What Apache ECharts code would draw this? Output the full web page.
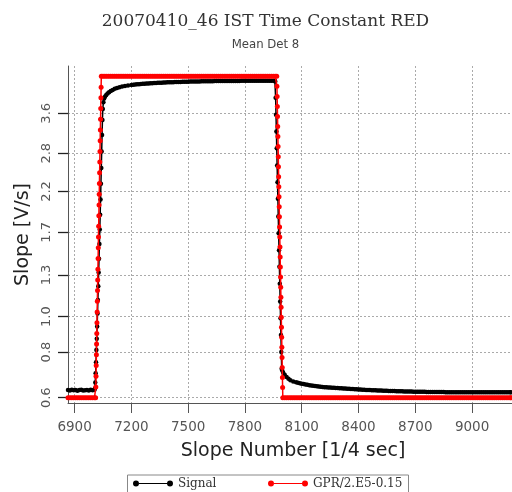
<!DOCTYPE html>
<html>
<head>
<meta charset="utf-8">
<script src="https://cdn.jsdelivr.net/npm/echarts@6/dist/echarts.min.js"></script>
<style>
  html, body { margin: 0; padding: 0; background: #fff; }
  #chart { width: 512px; height: 492px; }
</style>
</head>
<body>
<div id="chart"></div>
<script>
// Tick positions on both axes
const yTicks = [0.6, 0.8, 1.0, 1.3, 1.7, 2.2, 2.8, 3.6];
const xTicks = [6900, 7200, 7500, 7800, 8100, 8400, 8700, 9000];

// Signal: mean slope of detector 8 [V/s] per slope number
const signalX = [
  6865, 6875, 6885, 6895, 6905, 6915, 6925, 6935, 6945, 6955,
  6965, 6975, 6985, 6995, 7005, 7007, 7009, 7011, 7013, 7015,
  7017, 7019, 7021, 7023, 7025, 7027, 7029, 7031, 7033, 7035,
  7037, 7039, 7041, 7043, 7045, 7047, 7049, 7052, 7056, 7061,
  7067, 7074, 7082, 7091, 7101, 7112, 7124, 7137, 7151, 7166,
  7182, 7200, 7210, 7220, 7230, 7240, 7250, 7260, 7270, 7280,
  7290, 7300, 7310, 7320, 7330, 7340, 7350, 7360, 7370, 7380,
  7390, 7400, 7410, 7420, 7430, 7440, 7450, 7460, 7470, 7480,
  7490, 7500, 7510, 7520, 7530, 7540, 7550, 7560, 7570, 7580,
  7590, 7600, 7610, 7620, 7630, 7640, 7650, 7660, 7670, 7680,
  7690, 7700, 7710, 7720, 7730, 7740, 7750, 7760, 7770, 7780,
  7790, 7800, 7810, 7820, 7830, 7840, 7850, 7860, 7870, 7880,
  7890, 7900, 7910, 7920, 7930, 7940, 7950, 7958, 7960, 7962,
  7964, 7966, 7968, 7970, 7972, 7974, 7976, 7978, 7980, 7982,
  7984, 7986, 7988, 7990, 7992, 7994, 7997, 8002, 8010, 8020,
  8030, 8040, 8055, 8070, 8080, 8090, 8100, 8110, 8120, 8130,
  8140, 8150, 8160, 8170, 8180, 8190, 8200, 8210, 8220, 8230,
  8240, 8250, 8260, 8270, 8280, 8290, 8300, 8310, 8320, 8330,
  8340, 8350, 8360, 8370, 8380, 8390, 8400, 8410, 8420, 8430,
  8440, 8450, 8460, 8470, 8480, 8490, 8500, 8510, 8520, 8530,
  8540, 8550, 8560, 8570, 8580, 8590, 8600, 8610, 8620, 8630,
  8640, 8650, 8660, 8670, 8680, 8690, 8700, 8710, 8720, 8730,
  8740, 8750, 8760, 8770, 8780, 8790, 8800, 8810, 8820, 8830,
  8840, 8850, 8860, 8870, 8880, 8890, 8900, 8910, 8920, 8930,
  8940, 8950, 8960, 8970, 8980, 8990, 9000, 9010, 9020, 9030,
  9040, 9050, 9060, 9070, 9080, 9090, 9100, 9110, 9120, 9130,
  9140, 9150, 9160, 9170, 9180, 9190, 9200, 9205
];
const signalY = [
  0.630, 0.628, 0.631, 0.629, 0.630, 0.627, 0.630, 0.631, 0.628, 0.629,
  0.630, 0.628, 0.631, 0.629, 0.631, 0.636, 0.66, 0.70, 0.75, 0.81,
  0.87, 0.94, 1.02, 1.11, 1.21, 1.32, 1.44, 1.58, 1.73, 1.90,
  2.09, 2.31, 2.55, 2.83, 3.14, 3.45, 3.70, 3.86, 3.95, 4.00,
  4.04, 4.08, 4.11, 4.14, 4.17, 4.20, 4.22, 4.245, 4.26, 4.275,
  4.29, 4.305, 4.310, 4.315, 4.320, 4.325, 4.330, 4.335, 4.339, 4.342,
  4.346, 4.350, 4.353, 4.356, 4.359, 4.362, 4.365, 4.367, 4.370, 4.372,
  4.375, 4.377, 4.379, 4.381, 4.383, 4.385, 4.387, 4.388, 4.390, 4.391,
  4.393, 4.394, 4.396, 4.397, 4.399, 4.400, 4.401, 4.402, 4.403, 4.404,
  4.405, 4.406, 4.407, 4.408, 4.409, 4.410, 4.410, 4.411, 4.411, 4.412,
  4.412, 4.413, 4.413, 4.414, 4.414, 4.415, 4.415, 4.416, 4.416, 4.417,
  4.417, 4.418, 4.418, 4.418, 4.419, 4.419, 4.419, 4.420, 4.420, 4.420,
  4.421, 4.421, 4.421, 4.421, 4.422, 4.422, 4.422, 4.422, 4.40, 3.97,
  3.57, 3.21, 2.89, 2.59, 2.33, 2.10, 1.88, 1.69, 1.52, 1.37,
  1.23, 1.10, 0.99, 0.89, 0.80, 0.72, 0.712, 0.702, 0.693, 0.684,
  0.676, 0.670, 0.665, 0.661, 0.659, 0.657, 0.655, 0.654, 0.652, 0.651,
  0.649, 0.648, 0.647, 0.646, 0.645, 0.644, 0.643, 0.642, 0.641, 0.641,
  0.640, 0.640, 0.639, 0.639, 0.638, 0.638, 0.637, 0.637, 0.636, 0.636,
  0.635, 0.635, 0.634, 0.634, 0.633, 0.633, 0.632, 0.632, 0.631, 0.631,
  0.630, 0.630, 0.630, 0.629, 0.629, 0.629, 0.628, 0.628, 0.628, 0.627,
  0.627, 0.627, 0.626, 0.626, 0.626, 0.626, 0.625, 0.625, 0.625, 0.625,
  0.624, 0.624, 0.624, 0.624, 0.624, 0.623, 0.623, 0.623, 0.623, 0.623,
  0.623, 0.623, 0.622, 0.622, 0.622, 0.622, 0.622, 0.622, 0.622, 0.622,
  0.622, 0.622, 0.621, 0.621, 0.621, 0.621, 0.621, 0.621, 0.621, 0.621,
  0.621, 0.621, 0.621, 0.621, 0.621, 0.621, 0.621, 0.621, 0.621, 0.621,
  0.621, 0.621, 0.621, 0.621, 0.621, 0.621, 0.621, 0.621, 0.621, 0.621,
  0.621, 0.621, 0.621, 0.621, 0.621, 0.621, 0.621, 0.621
];

// GPR reference, scaled as GPR/2.E5-0.15
const gprX = [
  6865, 6875, 6885, 6895, 6905, 6915, 6925, 6935, 6945, 6955,
  6965, 6975, 6985, 6995, 7005,
  7011, 7012, 7013, 7014, 7015, 7016, 7017, 7018, 7019, 7020,
  7021, 7022, 7023, 7024, 7025, 7026, 7027, 7028, 7029, 7030,
  7031, 7032, 7033, 7034, 7035, 7036, 7037, 7038, 7039, 7040, 7041,
  7050, 7060, 7070, 7080, 7090, 7100, 7110, 7120, 7130, 7140,
  7150, 7160, 7170, 7180, 7190, 7200, 7210, 7220, 7230, 7240,
  7250, 7260, 7270, 7280, 7290, 7300, 7310, 7320, 7330, 7340,
  7350, 7360, 7370, 7380, 7390, 7400, 7410, 7420, 7430, 7440,
  7450, 7460, 7470, 7480, 7490, 7500, 7510, 7520, 7530, 7540,
  7550, 7560, 7570, 7580, 7590, 7600, 7610, 7620, 7630, 7640,
  7650, 7660, 7670, 7680, 7690, 7700, 7710, 7720, 7730, 7740,
  7750, 7760, 7770, 7780, 7790, 7800, 7810, 7820, 7830, 7840,
  7850, 7860, 7870, 7880, 7890, 7900, 7910, 7920, 7930, 7940,
  7950, 7960, 7968,
  7969, 7970, 7971, 7972, 7973, 7974, 7975, 7976, 7977, 7978,
  7979, 7980, 7981, 7982, 7983, 7984, 7985, 7986, 7987, 7988,
  7989, 7990, 7991, 7992, 7993, 7994, 7995, 7996, 7997, 7998,
  7999, 8000,
  8010, 8020, 8030, 8040, 8050, 8060, 8070, 8080, 8090, 8100,
  8110, 8120, 8130, 8140, 8150, 8160, 8170, 8180, 8190, 8200,
  8210, 8220, 8230, 8240, 8250, 8260, 8270, 8280, 8290, 8300,
  8310, 8320, 8330, 8340, 8350, 8360, 8370, 8380, 8390, 8400,
  8410, 8420, 8430, 8440, 8450, 8460, 8470, 8480, 8490, 8500,
  8510, 8520, 8530, 8540, 8550, 8560, 8570, 8580, 8590, 8600,
  8610, 8620, 8630, 8640, 8650, 8660, 8670, 8680, 8690, 8700,
  8710, 8720, 8730, 8740, 8750, 8760, 8770, 8780, 8790, 8800,
  8810, 8820, 8830, 8840, 8850, 8860, 8870, 8880, 8890, 8900,
  8910, 8920, 8930, 8940, 8950, 8960, 8970, 8980, 8990, 9000,
  9010, 9020, 9030, 9040, 9050, 9060, 9070, 9080, 9090, 9100,
  9110, 9120, 9130, 9140, 9150, 9160, 9170, 9180, 9190, 9200,
  9205
];
const gprY = [
  0.6, 0.6, 0.6, 0.6, 0.6, 0.6, 0.6, 0.6, 0.6, 0.6,
  0.6, 0.6, 0.6, 0.6, 0.6,
  0.600, 0.642, 0.687, 0.735, 0.786, 0.841, 0.899, 0.962, 1.029, 1.101,
  1.178, 1.260, 1.348, 1.442, 1.543, 1.651, 1.766, 1.889, 2.021, 2.162,
  2.313, 2.474, 2.647, 2.832, 3.030, 3.241, 3.467, 3.709, 3.968, 4.245, 4.545,
  4.545, 4.545, 4.545, 4.545, 4.545, 4.545, 4.545, 4.545, 4.545, 4.545,
  4.545, 4.545, 4.545, 4.545, 4.545, 4.545, 4.545, 4.545, 4.545, 4.545,
  4.545, 4.545, 4.545, 4.545, 4.545, 4.545, 4.545, 4.545, 4.545, 4.545,
  4.545, 4.545, 4.545, 4.545, 4.545, 4.545, 4.545, 4.545, 4.545, 4.545,
  4.545, 4.545, 4.545, 4.545, 4.545, 4.545, 4.545, 4.545, 4.545, 4.545,
  4.545, 4.545, 4.545, 4.545, 4.545, 4.545, 4.545, 4.545, 4.545, 4.545,
  4.545, 4.545, 4.545, 4.545, 4.545, 4.545, 4.545, 4.545, 4.545, 4.545,
  4.545, 4.545, 4.545, 4.545, 4.545, 4.545, 4.545, 4.545, 4.545, 4.545,
  4.545, 4.545, 4.545, 4.545, 4.545, 4.545, 4.545, 4.545, 4.545, 4.545,
  4.545, 4.545, 4.545,
  4.266, 4.005, 3.759, 3.529, 3.313, 3.110, 2.919, 2.740, 2.572, 2.415,
  2.267, 2.128, 1.997, 1.875, 1.760, 1.652, 1.551, 1.456, 1.366, 1.283,
  1.204, 1.130, 1.061, 0.996, 0.935, 0.878, 0.824, 0.773, 0.726, 0.681,
  0.640, 0.600,
  0.6, 0.6, 0.6, 0.6, 0.6, 0.6, 0.6, 0.6, 0.6, 0.6,
  0.6, 0.6, 0.6, 0.6, 0.6, 0.6, 0.6, 0.6, 0.6, 0.6,
  0.6, 0.6, 0.6, 0.6, 0.6, 0.6, 0.6, 0.6, 0.6, 0.6,
  0.6, 0.6, 0.6, 0.6, 0.6, 0.6, 0.6, 0.6, 0.6, 0.6,
  0.6, 0.6, 0.6, 0.6, 0.6, 0.6, 0.6, 0.6, 0.6, 0.6,
  0.6, 0.6, 0.6, 0.6, 0.6, 0.6, 0.6, 0.6, 0.6, 0.6,
  0.6, 0.6, 0.6, 0.6, 0.6, 0.6, 0.6, 0.6, 0.6, 0.6,
  0.6, 0.6, 0.6, 0.6, 0.6, 0.6, 0.6, 0.6, 0.6, 0.6,
  0.6, 0.6, 0.6, 0.6, 0.6, 0.6, 0.6, 0.6, 0.6, 0.6,
  0.6, 0.6, 0.6, 0.6, 0.6, 0.6, 0.6, 0.6, 0.6, 0.6,
  0.6, 0.6, 0.6, 0.6, 0.6, 0.6, 0.6, 0.6, 0.6, 0.6,
  0.6, 0.6, 0.6, 0.6, 0.6, 0.6, 0.6, 0.6, 0.6, 0.6,
  0.6
];

const pairs = (xs, ys) => xs.map((x, i) => [x, ys[i]]);

// Legend glyph: marker, connecting line, marker
const legendIcon = 'path://M0,3a3,3 0 1,0 6,0a3,3 0 1,0 -6,0z M6,2.5h28v1h-28z M34,3a3,3 0 1,0 6,0a3,3 0 1,0 -6,0z';
const legendText = { fontFamily: 'DejaVu Serif', fontSize: 12, color: '#333' };

const chart = echarts.init(document.getElementById('chart'), null, { renderer: 'canvas' });

chart.setOption({
  animation: false,
  backgroundColor: '#fff',
  title: {
    text: '20070410_46 IST Time Constant RED',
    subtext: 'Mean Det 8',
    left: 265.5,
    textAlign: 'center',
    top: 13.5,
    padding: 0,
    itemGap: 8,
    textStyle: { fontFamily: 'DejaVu Serif', fontSize: 17, fontWeight: 'normal', color: '#333' },
    subtextStyle: { fontFamily: 'Liberation Sans Narrow, DejaVu Sans Condensed, sans-serif', fontSize: 13, color: '#444' }
  },
  grid: {
    left: 68, top: 66, right: 0, bottom: 89,
    containLabel: false,
    outerBoundsMode: 'none'
  },
  legend: [
    {
      data: ['Signal'], left: 133, top: 477.5, padding: 0,
      itemWidth: 40, itemHeight: 6, icon: legendIcon, textStyle: legendText
    },
    {
      data: ['GPR/2.E5-0.15'], left: 268, top: 477.5, padding: 0,
      itemWidth: 40, itemHeight: 6, icon: legendIcon, textStyle: legendText
    }
  ],
  graphic: [{
    type: 'rect', left: 125, top: 472.5,
    shape: { width: 281, height: 30 },
    style: { fill: 'none', stroke: '#888', lineWidth: 1 },
    silent: true, z: 0
  }],
  xAxis: {
    type: 'value',
    min: 6865, max: 9211,
    name: 'Slope Number [1/4 sec]',
    nameLocation: 'middle',
    nameGap: 39,
    nameTextStyle: { fontFamily: 'DejaVu Sans', fontSize: 19, color: '#222', padding: [0, 0, 0, 6] },
    axisLine: { show: true, lineStyle: { color: '#555', width: 1 } },
    axisTick: { show: true, length: 10, inside: false, customValues: xTicks, lineStyle: { color: '#555' } },
    axisLabel: {
      customValues: xTicks, margin: 17,
      fontFamily: 'DejaVu Sans', fontSize: 13.5, color: '#555',
      formatter: v => String(v)
    },
    splitLine: { show: true, lineStyle: { color: '#aaa', type: [2, 2], width: 1 } }
  },
  yAxis: {
    type: 'log',
    min: 0.5803, max: 4.85,
    name: 'Slope [V/s]',
    nameLocation: 'middle',
    nameGap: 35,
    nameTextStyle: { fontFamily: 'DejaVu Sans', fontSize: 19, color: '#222' },
    axisLine: { show: true, lineStyle: { color: '#555', width: 1 } },
    axisTick: { show: true, length: 10, inside: false, customValues: yTicks, lineStyle: { color: '#222', width: 1.3 } },
    axisLabel: {
      customValues: yTicks, rotate: 90, margin: 15,
      fontFamily: 'DejaVu Sans', fontSize: 13, color: '#555',
      formatter: v => Number(v).toFixed(1)
    },
    splitLine: { show: true, lineStyle: { color: '#aaa', type: [2, 2], width: 1 } }
  },
  series: [
    {
      name: 'Signal',
      type: 'line',
      data: pairs(signalX, signalY),
      color: '#000',
      symbol: 'circle', symbolSize: 4.5, showSymbol: true, showAllSymbol: true,
      lineStyle: { color: '#000', width: 1.5 },
      itemStyle: { color: '#000' },
      z: 2
    },
    {
      name: 'GPR/2.E5-0.15',
      type: 'line',
      data: pairs(gprX, gprY),
      color: '#f00',
      symbol: 'circle', symbolSize: 5, showSymbol: true, showAllSymbol: true,
      lineStyle: { color: '#f00', width: 1.5 },
      itemStyle: { color: '#f00' },
      z: 3
    }
  ]
});
</script>
</body>
</html>
